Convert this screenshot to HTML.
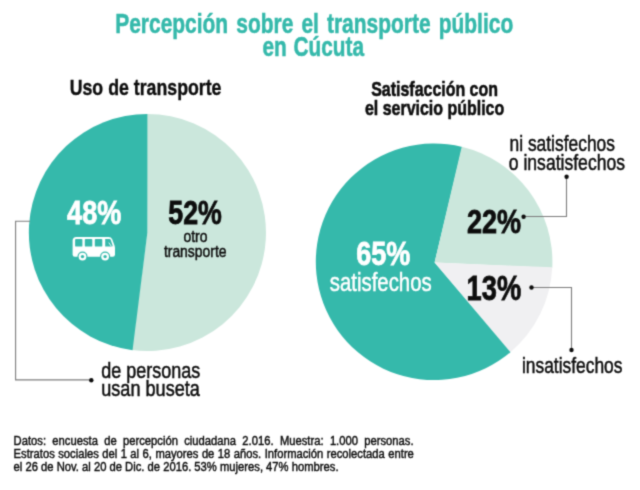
<!DOCTYPE html>
<html lang="es"><head><meta charset="utf-8"><title>Percepción sobre el transporte público en Cúcuta</title>
<style>html,body{margin:0;padding:0;background:#fff}body{width:640px;height:490px;overflow:hidden}svg{display:block;will-change:transform}text{font-family:"Liberation Sans",sans-serif}</style></head><body>
<svg width="640" height="490" viewBox="0 0 640 490">
<defs><filter id="soft" x="0" y="0" width="640" height="490" filterUnits="userSpaceOnUse" color-interpolation-filters="sRGB"><feConvolveMatrix order="3" kernelMatrix="1 4 1 4 16 4 1 4 1" divisor="36" edgeMode="duplicate" preserveAlpha="true"/></filter></defs>
<g filter="url(#soft)">
<rect width="640" height="490" fill="#fff"/>
<path d="M147.40 232.50L146.57 113.90A118.6 118.6 0 1 1 131.71 350.06Z" fill="#cbe7dc"/>
<path d="M147.40 232.50L132.54 350.16A118.6 118.6 0 0 1 147.40 113.90Z" fill="#35b9ab"/>
<path d="M434.60 262.40L510.93 351.76A118.3 118.3 0 1 1 462.32 146.91Z" fill="#35b9ab"/>
<path d="M434.60 262.40L461.72 146.77A118.3 118.3 0 0 1 552.24 267.99Z" fill="#cbe7dc"/>
<path d="M434.60 262.40L552.27 267.37A118.3 118.3 0 0 1 510.46 352.16Z" fill="#f0f0f2"/>
<g fill="none" stroke="#7d7d7d" stroke-width="1.1">
<path d="M30 221.3H15.6V379.9H90"/>
<path d="M566.5 177V216.5H524"/>
<path d="M532 287.5H571.5V349.5"/>
</g>
<g fill="#0d0d0d"><circle cx="91.3" cy="380.3" r="2.2"/><circle cx="566.6" cy="176.8" r="2.2"/><circle cx="523.6" cy="216.8" r="2.2"/><circle cx="531.5" cy="287.5" r="2.2"/><circle cx="571.5" cy="350" r="2.2"/></g>
<g id="bus">
<path d="M76.4 236.9H108.6Q111.2 236.9 112.2 239.3L114.5 245.4Q115 246.8 115 248.2V254.6Q115 256.8 112.8 256.8H74.8Q72.6 256.8 72.6 254.6V240.7Q72.6 236.9 76.4 236.9Z" fill="#fff"/>
<g fill="#35b9ab">
<rect x="75.1" y="238.9" width="7.3" height="7.7" rx="0.9"/>
<rect x="84.8" y="238.9" width="7.5" height="7.7" rx="0.9"/>
<rect x="94.8" y="238.9" width="7.5" height="7.7" rx="0.9"/>
<path d="M105.2 238.9H109.6Q110.3 238.9 110.6 239.6L112.6 245.6Q112.9 246.6 111.9 246.6H105.2Z"/>
<circle cx="82.5" cy="256.6" r="5"/><circle cx="105.1" cy="256.6" r="5"/>
</g>
<path d="M108.8 242.6L111.4 246.4" stroke="#fff" stroke-width="0.9" fill="none"/>
<g fill="#fff"><circle cx="82.5" cy="256.6" r="3.9"/><circle cx="105.1" cy="256.6" r="3.9"/></g>
<g fill="#35b9ab"><circle cx="82.5" cy="256.6" r="1.7"/><circle cx="105.1" cy="256.6" r="1.7"/></g>
</g>
<text x="115.20" y="32.70" font-size="27.8" font-weight="700" fill="#35b9ab" stroke="#35b9ab" stroke-width="0.55" word-spacing="3" textLength="398.00" lengthAdjust="spacingAndGlyphs">Percepción sobre el transporte público</text>
<text x="262.40" y="56.00" font-size="27.8" font-weight="700" fill="#35b9ab" stroke="#35b9ab" stroke-width="0.55" word-spacing="1.5" textLength="101.60" lengthAdjust="spacingAndGlyphs">en Cúcuta</text>
<text x="69.70" y="94.80" font-size="22.5" font-weight="700" fill="#0d0d0d" stroke="#0d0d0d" stroke-width="0.4" word-spacing="0" textLength="151.80" lengthAdjust="spacingAndGlyphs">Uso de transporte</text>
<text x="371.20" y="95.90" font-size="21" font-weight="700" fill="#0d0d0d" stroke="#0d0d0d" stroke-width="0.6" word-spacing="0" textLength="126.80" lengthAdjust="spacingAndGlyphs">Satisfacción con</text>
<text x="365.00" y="115.40" font-size="21" font-weight="700" fill="#0d0d0d" stroke="#0d0d0d" stroke-width="0.6" word-spacing="0" textLength="139.20" lengthAdjust="spacingAndGlyphs">el servicio público</text>
<text x="509.50" y="151.20" font-size="22" font-weight="400" fill="#0d0d0d" stroke="#0d0d0d" stroke-width="0.5" word-spacing="0" textLength="105.50" lengthAdjust="spacingAndGlyphs">ni satisfechos</text>
<text x="508.80" y="170.40" font-size="22" font-weight="400" fill="#0d0d0d" stroke="#0d0d0d" stroke-width="0.5" word-spacing="0" textLength="116.20" lengthAdjust="spacingAndGlyphs">o insatisfechos</text>
<text x="467.00" y="232.80" font-size="34" font-weight="700" fill="#0d0d0d" stroke="#0d0d0d" stroke-width="0.8" word-spacing="0" textLength="54.20" lengthAdjust="spacingAndGlyphs">22%</text>
<text x="466.60" y="299.50" font-size="34.3" font-weight="700" fill="#0d0d0d" stroke="#0d0d0d" stroke-width="0.8" word-spacing="0" textLength="54.60" lengthAdjust="spacingAndGlyphs">13%</text>
<text x="356.20" y="265.30" font-size="34" font-weight="700" fill="#fff" stroke="#fff" stroke-width="0.8" word-spacing="0" textLength="54.20" lengthAdjust="spacingAndGlyphs">65%</text>
<text x="329.80" y="291.00" font-size="26" font-weight="400" fill="#fff" stroke="#fff" stroke-width="0.5" word-spacing="0" textLength="101.90" lengthAdjust="spacingAndGlyphs">satisfechos</text>
<text x="67.10" y="224.30" font-size="33.5" font-weight="700" fill="#fff" stroke="#fff" stroke-width="0.8" word-spacing="0" textLength="54.20" lengthAdjust="spacingAndGlyphs">48%</text>
<text x="168.30" y="224.20" font-size="33.5" font-weight="700" fill="#0d0d0d" stroke="#0d0d0d" stroke-width="0.8" word-spacing="0" textLength="53.60" lengthAdjust="spacingAndGlyphs">52%</text>
<text x="183.50" y="242.00" font-size="16.8" font-weight="400" fill="#0d0d0d" stroke="#0d0d0d" stroke-width="0.5" word-spacing="0" textLength="24.00" lengthAdjust="spacingAndGlyphs">otro</text>
<text x="163.90" y="257.00" font-size="16.8" font-weight="400" fill="#0d0d0d" stroke="#0d0d0d" stroke-width="0.5" word-spacing="0" textLength="62.60" lengthAdjust="spacingAndGlyphs">transporte</text>
<text x="101.20" y="378.30" font-size="22" font-weight="400" fill="#0d0d0d" stroke="#0d0d0d" stroke-width="0.5" word-spacing="0" textLength="99.10" lengthAdjust="spacingAndGlyphs">de personas</text>
<text x="101.20" y="396.20" font-size="22" font-weight="400" fill="#0d0d0d" stroke="#0d0d0d" stroke-width="0.5" word-spacing="0" textLength="98.70" lengthAdjust="spacingAndGlyphs">usan buseta</text>
<text x="521.90" y="372.90" font-size="22" font-weight="400" fill="#0d0d0d" stroke="#0d0d0d" stroke-width="0.5" word-spacing="0" textLength="100.60" lengthAdjust="spacingAndGlyphs">insatisfechos</text>
<text transform="translate(13.60 445.10) scale(0.878 1)" font-size="12.8" fill="#0d0d0d" stroke="#0d0d0d" stroke-width="0.45" word-spacing="3.635">Datos: encuesta de percepción ciudadana 2.016. Muestra: 1.000 personas.</text>
<text transform="translate(13.60 458.00) scale(0.878 1)" font-size="12.8" fill="#0d0d0d" stroke="#0d0d0d" stroke-width="0.45" word-spacing="0.381">Estratos sociales del 1 al 6, mayores de 18 años. Información recolectada entre</text>
<text transform="translate(13.60 471.10) scale(0.878 1)" font-size="12.8" fill="#0d0d0d" stroke="#0d0d0d" stroke-width="0.45" word-spacing="0.000">el 26 de Nov. al 20 de Dic. de 2016. 53% mujeres, 47% hombres.</text>
</g></svg></body></html>
